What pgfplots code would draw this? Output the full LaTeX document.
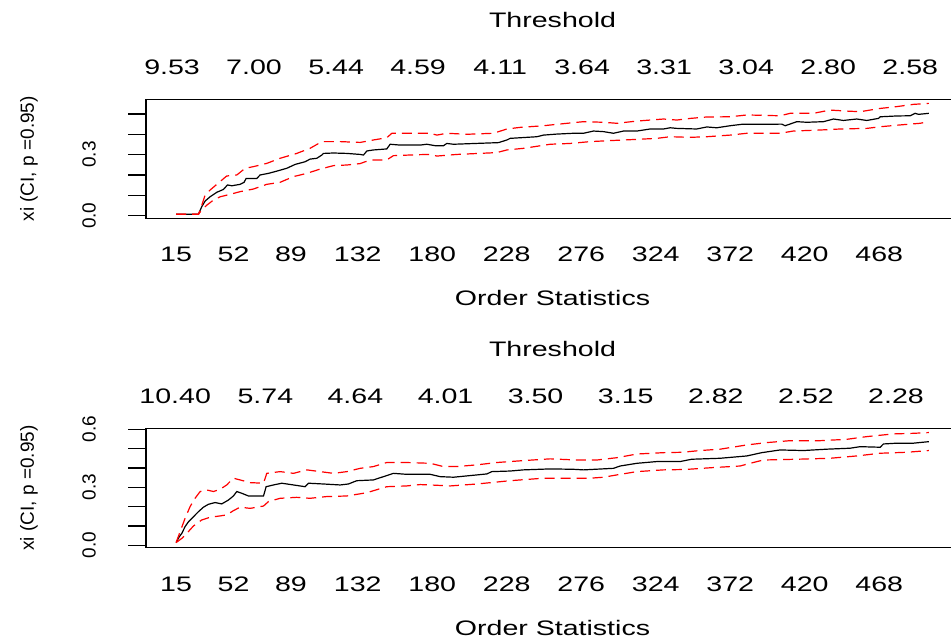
\documentclass[border=0pt]{standalone}
\usepackage{graphicx}
\usepackage{pgfplots}
\pgfplotsset{compat=1.18}
\usepackage{fontspec}
\setmainfont{Liberation Sans}[FakeStretch=1.36]
\newfontfamily\rotfont{Liberation Sans}

\pgfplotstableread{
x y
15 0.007
29.4 0.007
31.5 0.044
33.7 0.072
36.9 0.093
41.2 0.115
45.5 0.129
48.1 0.151
50.9 0.147
56.2 0.154
58.8 0.164
60.1 0.183
67.0 0.183
69.1 0.200
74.5 0.208
79.9 0.219
86.3 0.233
91.7 0.252
98.1 0.265
101.3 0.278
105.6 0.282
108.9 0.298
109.9 0.306
116.4 0.308
125 0.306
133.6 0.301
135.7 0.298
137.9 0.318
142.1 0.323
150.7 0.328
152.9 0.351
159.3 0.347
172.2 0.347
176.5 0.351
181.9 0.344
187.3 0.344
189.4 0.355
193.7 0.351
204.5 0.354
222.7 0.359
228.1 0.372
230.2 0.380
241.0 0.385
247.4 0.388
251.7 0.396
260.3 0.401
271.0 0.405
277.5 0.405
283.9 0.416
290.4 0.413
296.8 0.405
303.3 0.416
311.9 0.416
320.4 0.426
329.0 0.426
333.3 0.432
337.6 0.429
350.4 0.426
356.9 0.436
363.3 0.432
371.9 0.442
379.4 0.449
393.4 0.449
405.2 0.450
407.4 0.442
414.9 0.462
421.3 0.459
432.1 0.462
438.5 0.475
444.9 0.468
453.5 0.475
460.0 0.468
467.5 0.478
468.6 0.486
479.3 0.490
487.9 0.491
491.1 0.503
493.3 0.498
500 0.503
}\topmid

\pgfplotstableread{
x y
15 0.007
29.4 0.007
31.5 0.050
33.7 0.102
36.9 0.126
41.2 0.154
47.6 0.195
54.1 0.200
59.5 0.233
64.8 0.241
73.4 0.257
82.0 0.282
92.7 0.306
101.3 0.331
108.9 0.364
120.7 0.364
133.6 0.360
142.1 0.372
150.7 0.383
154.0 0.405
178.7 0.405
183.0 0.396
189.4 0.405
202.3 0.400
219.5 0.405
228.1 0.426
236.7 0.434
251.7 0.442
260.3 0.449
277.5 0.462
290.4 0.459
299.0 0.454
311.9 0.465
329.0 0.475
337.6 0.470
346.2 0.478
356.9 0.485
371.9 0.486
382.7 0.495
404.1 0.491
410.6 0.503
425.6 0.503
436.3 0.519
447.1 0.514
455.7 0.511
462.1 0.519
468.6 0.527
479.3 0.536
490.0 0.547
500 0.552
}\topup

\pgfplotstableread{
x y
15 0.007
29.4 0.007
31.5 0.028
34.8 0.052
39.1 0.077
43.4 0.093
49.8 0.105
56.2 0.118
64.8 0.131
73.4 0.154
82.0 0.164
90.6 0.192
99.2 0.208
107.8 0.229
116.4 0.246
125.0 0.249
133.6 0.256
136.8 0.265
142.1 0.274
150.7 0.274
155.0 0.295
172.2 0.300
178.7 0.301
183.0 0.293
195.9 0.301
221.6 0.310
228.1 0.323
238.8 0.331
256.0 0.351
268.9 0.355
281.8 0.364
294.7 0.369
311.9 0.375
324.7 0.380
333.3 0.388
346.2 0.385
356.9 0.388
371.9 0.396
382.7 0.405
404.1 0.405
412.7 0.416
429.9 0.421
442.8 0.426
460.0 0.429
468.6 0.437
481.5 0.446
494.3 0.454
500 0.462
}\toplow

\pgfplotstableread{
x y
15 0.014
17.1 0.045
18.7 0.062
20.8 0.097
23.0 0.122
26.2 0.148
29.4 0.174
32.6 0.197
35.8 0.212
40.1 0.221
44.4 0.214
48.7 0.234
51.9 0.255
54.1 0.278
57.3 0.269
61.6 0.255
71.3 0.255
73.0 0.303
77.7 0.312
83.1 0.321
90.6 0.312
98.1 0.303
100.3 0.321
109.9 0.317
120.7 0.312
126.0 0.317
131.4 0.334
142.1 0.338
148.6 0.355
155.0 0.372
163.6 0.367
178.7 0.367
185.1 0.355
193.7 0.352
215.2 0.369
218.4 0.381
230.2 0.384
238.8 0.390
256.0 0.395
271.0 0.393
277.5 0.390
296.8 0.398
301.1 0.410
311.9 0.424
324.7 0.433
339.7 0.433
347.2 0.445
365.5 0.450
382.7 0.462
392.3 0.479
404.1 0.493
419.2 0.490
434.2 0.497
449.2 0.502
455.7 0.510
468.6 0.507
470.7 0.524
479.3 0.528
490.0 0.528
500 0.536
}\botmid

\pgfplotstableread{
x y
15 0.014
17.6 0.071
20.8 0.140
24.0 0.200
27.2 0.243
30.5 0.278
34.8 0.286
39.1 0.278
43.4 0.290
47.6 0.312
51.9 0.347
56.2 0.338
62.7 0.324
71.3 0.321
73.4 0.372
82.0 0.381
90.6 0.372
99.2 0.390
107.8 0.381
116.4 0.372
125.0 0.381
133.6 0.398
142.1 0.407
150.7 0.428
163.6 0.428
178.7 0.424
187.3 0.407
195.9 0.407
208.8 0.416
221.6 0.428
238.8 0.438
256.0 0.447
273.2 0.441
286.1 0.441
299.0 0.453
311.9 0.472
329.0 0.479
341.0 0.481
352.6 0.490
365.5 0.497
382.7 0.519
395.5 0.531
410.6 0.541
429.9 0.541
447.1 0.548
460.0 0.562
477.2 0.576
490.0 0.579
500 0.583
}\botup

\pgfplotstableread{
x y
15 0.014
18.7 0.036
21.9 0.062
26.2 0.100
31.5 0.131
36.9 0.145
43.4 0.152
47.6 0.157
51.9 0.179
56.2 0.197
62.7 0.191
71.3 0.203
74.5 0.226
82.0 0.243
92.7 0.248
101.3 0.243
112.0 0.252
125.0 0.255
137.9 0.272
150.7 0.303
163.6 0.307
172.2 0.314
178.7 0.312
191.6 0.307
208.8 0.317
230.2 0.334
251.7 0.347
268.9 0.347
281.8 0.347
290.4 0.352
299.0 0.364
311.9 0.381
329.0 0.390
343.0 0.392
361.2 0.402
378.4 0.410
384.8 0.424
393.4 0.441
414.9 0.445
436.3 0.450
453.5 0.462
468.6 0.476
485.7 0.481
500 0.490
}\botlow

\tikzset{ylab/.style={rotate=90, font=\fontsize{9.5}{11}\rotfont}}

\begin{document}
\begin{tikzpicture}[font=\fontsize{10.5}{12}\selectfont]
\pgfplotsset{
  panel/.style={
    scale only axis, width=406.5pt,
    xmin=-4.4, xmax=519.4,
    axis line style={line width=0.6pt},
    xtick={15,52,89,132,180,228,276,324,372,420,468},
    xticklabels={15,52,89,132,180,228,276,324,372,420,468},
    xtick style={draw=none},
    xticklabel style={anchor=center, yshift=-9.2pt},
    ytick pos=left, tick align=outside, major tick length=9pt,
    ytick style={line width=0.6pt, black},
    yticklabels={},
    xlabel={Order Statistics},
    xlabel style={at={(rel axis cs:0.5,0)}, anchor=center, yshift=-40pt},
    ylabel={\fontsize{9.5}{11}\rotfont xi (CI, p =0.95)},
    ylabel style={at={(rel axis cs:-0.1439,0.5)}, anchor=center, rotate=0},
    title={Threshold},
    title style={at={(rel axis cs:0.5,1)}, anchor=center, yshift=33.5pt},
    clip mode=individual,
  },
  over/.style={
    scale only axis, width=406.5pt,
    xmin=-4.4, xmax=519.4, ymin=0, ymax=1,
    axis line style={draw=none},
    ytick=\empty, xtick style={draw=none},
    xticklabel pos=upper,
    xticklabel style={anchor=center, yshift=16.2pt},
  },
  mid/.style={black, line width=0.6pt},
  ci/.style={red, line width=0.6pt, dash pattern=on 5pt off 3pt},
}
% top panel
\begin{axis}[panel, at={(73pt,210.85pt)}, anchor=south west, height=59.5pt,
  ymin=-0.0128, ymax=0.572, ytick={0,0.1,0.2,0.3,0.4,0.5}]
\addplot[mid] table {\topmid};
\addplot[ci] table {\topup};
\addplot[ci] table {\toplow};
\node[ylab] at (axis cs:-41.1,0) {0.0};
\node[ylab] at (axis cs:-41.1,0.3) {0.3};
\end{axis}
\begin{axis}[over, at={(73pt,210.85pt)}, anchor=south west, height=59.5pt,
  xtick={12.4,65.2,118.1,170.9,223.8,276.6,329.4,382.3,435.1,488.0},
  xticklabels={9.53,7.00,5.44,4.59,4.11,3.64,3.31,3.04,2.80,2.58}]
\end{axis}
% bottom panel
\begin{axis}[panel, at={(73pt,46.15pt)}, anchor=south west, height=59.7pt,
  ymin=-0.0124, ymax=0.605, ytick={0,0.1,0.2,0.3,0.4,0.5,0.6}]
\addplot[mid] table {\botmid};
\addplot[ci] table {\botup};
\addplot[ci] table {\botlow};
\node[ylab] at (axis cs:-41.1,0) {0.0};
\node[ylab] at (axis cs:-41.1,0.3) {0.3};
\node[ylab] at (axis cs:-41.1,0.6) {0.6};
\end{axis}
\begin{axis}[over, at={(73pt,46.15pt)}, anchor=south west, height=59.7pt,
  xtick={14.4,72.5,130.5,188.6,246.6,304.7,362.7,420.8,478.8},
  xticklabels={10.40,5.74,4.64,4.01,3.50,3.15,2.82,2.52,2.28}]
\end{axis}
\pgfresetboundingbox
\useasboundingbox (0,0) rectangle (475.5pt,320pt);
\end{tikzpicture}
\end{document}
